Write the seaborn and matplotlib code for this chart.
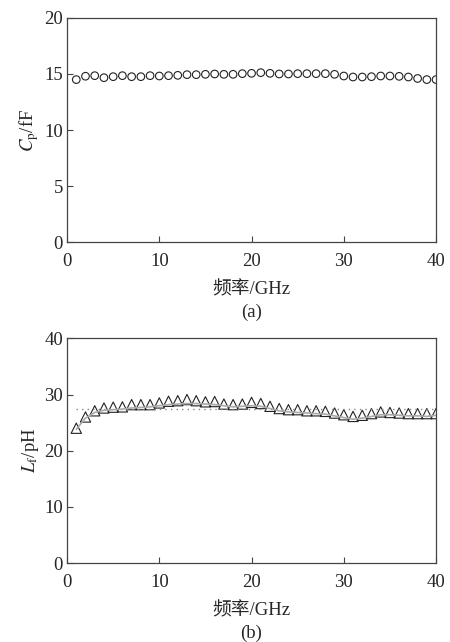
import numpy as np
import pandas as pd
import matplotlib
matplotlib.use("Agg")
import matplotlib.pyplot as plt
import seaborn as sns

# ==========================
# Data
# ==========================

freq = list(range(1, 41))

cp = [14.5, 14.8, 14.85, 14.67, 14.76, 14.85, 14.76, 14.76, 14.85, 14.82,
      14.85, 14.88, 14.94, 14.94, 14.97, 15.0, 14.97, 14.97, 15.03, 15.06,
      15.12, 15.06, 15.0, 15.0, 15.03, 15.03, 15.03, 15.03, 14.97, 14.82,
      14.73, 14.73, 14.76, 14.82, 14.82, 14.79, 14.73, 14.6, 14.5, 14.5]

lf = [24.0, 26.0, 27.1, 27.6, 27.75, 27.8, 28.2, 28.2, 28.2, 28.5,
      28.8, 28.9, 29.1, 28.9, 28.7, 28.75, 28.3, 28.2, 28.3, 28.6,
      28.4, 27.9, 27.5, 27.3, 27.3, 27.1, 27.1, 27.0, 26.7, 26.4,
      26.1, 26.3, 26.6, 26.9, 26.8, 26.7, 26.6, 26.6, 26.6, 26.6]

lf_curve = [23.8, 25.8, 26.8, 27.2, 27.3, 27.4, 27.6, 27.7, 27.8, 28.0,
            28.2, 28.3, 28.4, 28.4, 28.3, 28.2, 28.0, 27.8, 27.9, 28.0,
            27.9, 27.5, 27.1, 26.9, 26.8, 26.7, 26.6, 26.5, 26.2, 25.9,
            25.6, 25.8, 26.1, 26.4, 26.4, 26.3, 26.2, 26.2, 26.1, 26.3]

lf_const = [27.4] * 40

df = pd.DataFrame({
    "freq": freq,
    "cp": cp,
    "lf": lf,
    "lf_curve": lf_curve,
    "lf_const": lf_const,
})

# ==========================
# Style
# ==========================

sns.set_theme(style="white")
plt.rcParams["font.family"] = ["Liberation Serif", "Noto Sans CJK SC"]
plt.rcParams["mathtext.fontset"] = "stix"
plt.rcParams["xtick.direction"] = "in"
plt.rcParams["ytick.direction"] = "in"

edge = "#444444"
fs = 13.5

fig = plt.figure(figsize=(4.5, 6.42), dpi=100)
ax1 = fig.add_axes([0.149, 0.623, 0.82, 0.349])
ax2 = fig.add_axes([0.149, 0.123, 0.82, 0.350])

# ==========================
# (a) Cp
# ==========================

sns.scatterplot(data=df, x="freq", y="cp", ax=ax1, marker="o", s=30,
                facecolor="none", edgecolor="#222222", linewidth=0.8)
ax1.set_ylim(0, 20)
ax1.set_yticks([0, 5, 10, 15, 20])
ax1.set_ylabel(r"$C_{\mathrm{p}}$/fF", fontsize=fs, labelpad=2)

# ==========================
# (b) Lf
# ==========================

sns.lineplot(data=df, x="freq", y="lf_const", ax=ax2, color="#888888",
             linestyle=(0, (1, 3)), linewidth=1.0)
sns.lineplot(data=df, x="freq", y="lf_curve", ax=ax2, color="#aaaaaa",
             linewidth=1.2)
sns.scatterplot(data=df, x="freq", y="lf", ax=ax2, marker="^", s=55,
                facecolor="none", edgecolor="#222222", linewidth=0.8)
ax2.set_ylim(0, 40)
ax2.set_yticks([0, 10, 20, 30, 40])
ax2.set_ylabel(r"$L_{\mathrm{f}}$/pH", fontsize=fs, labelpad=2)

for ax, tag in [(ax1, "(a)"), (ax2, "(b)")]:
    ax.set_xlim(0, 40)
    ax.set_xticks([0, 10, 20, 30, 40])
    ax.set_xlabel("频率/GHz", fontsize=fs, labelpad=8)
    ax.tick_params(labelsize=fs, length=4, width=0.8, color=edge,
                   top=False, right=False, left=True, bottom=True)
    ax.tick_params(axis="x", pad=8)
    ax.tick_params(axis="y", pad=3)
    for sp in ax.spines.values():
        sp.set_color(edge)
        sp.set_linewidth(0.9)
    ax.text(0.5, -0.315, tag, transform=ax.transAxes, ha="center",
            va="center", fontsize=fs)

plt.savefig("out.png", dpi=100)
